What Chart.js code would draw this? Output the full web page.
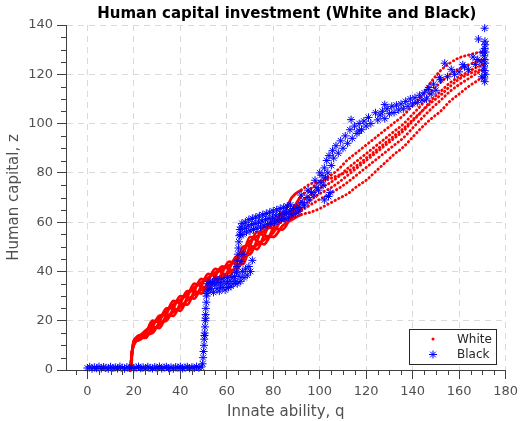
<!DOCTYPE html>
<html>
<head>
<meta charset="utf-8">
<script src="https://cdn.jsdelivr.net/npm/chart.js@4.4.1/dist/chart.umd.min.js"></script>
<style>
  html, body { margin: 0; padding: 0; background: #fff; }
</style>
</head>
<body>
<canvas id="chart" width="523" height="421"></canvas>
<script>
var FONT = "'DejaVu Sans', sans-serif";

// axis ticks
var xTicks = [0, 20, 40, 60, 80, 100, 120, 140, 160, 180];
var yTicks = [0, 20, 40, 60, 80, 100, 120, 140];

// White: shared q positions, one z list per strand
var whiteQ = [18.6, 19.2, 20, 22, 25, 28, 31, 34, 37, 40, 43, 46, 49, 52, 55, 58, 61, 64, 67, 70, 73, 76, 80, 84, 88, 92, 96, 100, 104, 108, 112, 116, 120, 124, 128, 132, 136, 140, 144, 148, 152, 156, 160, 164, 168, 171];
var whiteA = [0, 7, 10, 13, 16, 17.5, 17, 22.5, 28, 27, 26.5, 32, 37, 36, 35, 39.5, 44, 43, 43, 50.5, 56, 54.5, 54, 58.5, 61, 63, 64, 65.5, 67.5, 69.5, 71.5, 74.5, 77, 80.5, 84, 87.5, 90.5, 94.5, 98.5, 102, 105, 109, 112, 115, 117.5, 119.5];
var whiteB = [0, 7, 11, 14, 14.5, 15, 19.5, 25, 25, 24, 29.5, 35, 34, 33, 38, 42, 41, 40, 46.5, 54, 52.5, 51, 57.5, 64, 63, 64.7, 67, 69.3, 71.3, 73.6, 76.2, 79.2, 82.2, 85.2, 88.2, 91.2, 94.2, 98.2, 102.2, 106, 109.4, 113, 115.8, 118.2, 120.6, 122];
var whiteC = [0, 7, 12, 13, 13, 17.5, 22, 22.5, 22, 27, 32, 32, 31, 36, 41, 39.5, 38, 43, 50, 50.5, 49, 54.5, 61, 60.5, 62, 65.5, 69, 71.5, 73.5, 76, 79, 82, 85, 88, 91, 94, 97, 101, 105, 109.5, 113, 116.5, 119, 121, 123, 124];
var whiteD = [0, 7, 11, 12, 14.5, 20, 19.5, 20, 25, 30, 29.5, 29, 34, 39, 38, 37, 41, 46, 46.5, 47, 52.5, 58, 57.5, 57, 63, 68.3, 71, 73.7, 75.7, 78.4, 81.8, 84.8, 87.8, 90.8, 93.8, 96.8, 99.8, 103.8, 107.8, 113, 116.6, 120, 122.2, 123.8, 125.4, 126];
var whiteE = [0, 7, 11.5, 13.5, 15.3, 18.8, 20.8, 23.8, 26.5, 28.5, 30.8, 33.5, 35.5, 37.5, 39.5, 40.8, 42.5, 44.5, 48.3, 52.3, 54.3, 56.3, 59.3, 62.3, 65, 70.5, 73.5, 76.5, 78.5, 81.4, 85.3, 88.3, 91.3, 94.3, 97.3, 100.3, 103.3, 107.3, 111.3, 117, 121.5, 124.5, 126.7, 127.8, 128.8, 129];
var whiteF = [0, 7, 10.5, 12.5, 13.8, 16.3, 18.3, 21.3, 23.5, 25.5, 28.3, 30.5, 32.5, 34.5, 36.5, 38.3, 39.5, 41.5, 44.8, 48.8, 50.8, 52.8, 55.8, 62, 70, 73, 75.5, 76.5, 77.5, 79, 80.5, 83, 86, 89, 92, 95, 98, 101.5, 105, 108.5, 111.5, 115, 118, 120, 121.5, 122.5];

// Black: [q, z] points, by stretch of the curve
var blackFloor = [[0,0.8],[1,1.3],[2,0.5],[3,1.1],[4,0.7],[5,1.4],[6,0.6],[7,1.2],[8,0.9],[9,0.5],[10,1.3],[11,0.8],[12,1.1],[13,0.6],[14,1.4],[15,0.9],[16,0.5],[17,1.2],[18,0.8],[19,1.3],[20,0.6],[21,1],[22,1.4],[23,0.7],[24,1.1],[25,0.5],[26,1.3],[27,0.9],[28,0.6],[29,1.2],[30,0.8],[31,1.4],[32,0.6],[33,1],[34,1.3],[35,0.7],[36,1.1],[37,0.5],[38,1.2],[39,0.9],[40,1.4],[41,0.6],[42,1],[43,1.3],[44,0.7],[45,1.1],[46,0.8],[47,1.4],[48,0.9],[49,1.2]];
var blackRise = [[49.6,2.5],[49.8,5],[50,7.5],[50.2,10],[50.3,12.5],[50.4,14],[50.5,15],[50.6,17.5],[50.8,20],[50.9,21],[50.9,22.5],[51,25],[51.2,27.5],[51.3,30],[51.4,31],[51.5,32.5]];
var blackLow = [[51.8,35],[52.3,32.5],[52.8,36],[53.3,33],[53.8,35.5],[54.3,31.5],[54.8,34.5],[55.3,37],[55.8,33],[56.3,35.5],[56.8,32],[57.3,34.5],[57.8,37],[58.3,33.5],[58.8,36],[59.3,32.5],[59.8,35],[60.3,37.5],[60.8,33.5],[61.3,36],[61.8,34],[62.3,37.5],[62.8,35],[63.3,38],[63.8,36]];
var blackShoulder = [[64.5,35],[65.3,38],[66,36],[66.7,40],[67.4,37.5],[68.1,41],[68.8,38.5],[69.5,42],[70.2,40],[71,44.5],[66.2,44],[67,47]];
var blackJump = [[64.2,39.5],[64.4,42],[64.6,44.5],[64.8,47],[65,49.5],[65.2,52],[65.4,54.5],[65.6,57],[65.9,55],[66.2,58]];
var blackMid = [[67,55],[68.5,56],[70,56.5],[71.5,57],[73,57.5],[74.5,58],[76,58.5],[77.5,59],[79,59.5],[80.5,60],[82,60.5],[83.5,61],[85,61.5],[86.5,62],[88,63],[89.5,63.5],[91,64.5],
  [67.7,57.5],[69.2,58.5],[70.7,59],[72.2,59.5],[73.7,60],[75.2,60.5],[76.7,61],[78.2,61.5],[79.7,62],[81.2,62.5],[82.7,63],[84.2,63.5],[85.7,64],[87.2,64.5],[88.7,65.5],[90.2,66],
  [66.5,59.5],[68,60],[69.5,61],[71,61.5],[72.5,62],[74,62.5],[75.5,63],[77,63.5],[78.5,64],[80,64.5],[81.5,65],[83,65.5],[84.5,66],[86,66.5],[87.5,67]];
var blackClimb = [[91.5,66],[92.5,68],[93.5,67],[94.5,70],[95.5,69],[96.5,72],[97.5,71],[98.5,74],[99.5,73],[100.5,76],[101,79],[101.5,75],[102,82],[102.5,78],[103,85],[103.5,80],[104,87],[104.5,72],[105,83],[105.5,89],[106,86],[92,71],[95,73],[98,77],[100,80],[103.8,70.4],[102,69]];
var blackUpper = [[107,91],[108,88],[109,93],[110,90],[111,95],[112,92],[113,97.5],[114,94],[115,99],[116,96],[117,100],[118,97.5],[119,101],[120,99],[121,102.5],[122,100],[124,104.4],[125,101.5],[126,103.5],[127,105],[128,102],[129,106],[130,104],[131,107],[132,104.5],[133,107.5],[134,105.5],[135,108],[136,106],[137,109],[138,107],[139,110],[140,108],[141,110.5],[142,108.5],[143,111.5],[144,109.5],[145,112.5],[146,110],[146.6,113.8],[128,107.7],[113.5,101.6],[117,97]];
var blackTop = [[147,114.6],[148,112],[149,116],[150,113.5],[151.6,118.6],[152,117.8],[153.8,124.5],[155,119],[156.6,122],[158,120],[160,121],[161.6,123.9],[162.3,123],[164,122],[166,127],[167,124],[168,126]];
var blackColumn = [[171,117],[170.8,118.5],[171.3,120],[171,121.5],[170.7,123],[171.2,124.5],[171,126],[170.8,127.5],[171.3,129],[171,130.5],[171.2,132],[171.1,133.4],[168.3,134.3],[171,138.7],[169.5,125],[169.8,119],[170,129]];

function toPoints(list) {
  return list.map(function (p) { return {x: p[0], y: p[1]}; });
}

var blackAll = [].concat(blackFloor, blackRise, blackLow, blackShoulder, blackJump, blackMid, blackClimb, blackUpper, blackTop, blackColumn);
var whiteStrands = [whiteA, whiteB, whiteC, whiteD, whiteE, whiteF];

var datasets = [{
  label: 'Black',
  data: toPoints(blackAll),
  showLine: false,
  pointStyle: 'star',
  pointRadius: 4,
  pointBorderWidth: 1,
  borderColor: '#0000ff',
  backgroundColor: '#0000ff',
  clip: false
}];
whiteStrands.forEach(function (z) {
  datasets.push({
    label: 'White',
    data: whiteQ.map(function (q, i) { return {x: q, y: z[i]}; }),
    showLine: true,
    borderColor: '#ff0000',
    backgroundColor: '#ff0000',
    borderWidth: 2.8,
    borderCapStyle: 'round',
    pointRadius: 0,
    cubicInterpolationMode: 'monotone',
    // solid braid at low q, loose dots further up
    segment: {
      borderDash: function (c) { return c.p0.parsed.x < 92 ? [] : [0.5, 3.6]; }
    },
    clip: false
  });
});

// title, minor ticks and the boxed legend
var extras = {
  id: 'extras',
  afterDraw: function (chart) {
    var ctx = chart.ctx, area = chart.chartArea;
    var xs = chart.scales.x, ys = chart.scales.y;
    ctx.save();
    ctx.strokeStyle = '#404040';
    ctx.lineWidth = 1;
    ctx.beginPath();
    for (var v = -5; v <= 180; v += 5) {
      if (v % 20 === 0) continue;
      var px = Math.round(xs.getPixelForValue(v)) + 0.5;
      ctx.moveTo(px, area.bottom);
      ctx.lineTo(px, area.bottom + 5);
    }
    for (var w = 5; w < 140; w += 5) {
      if (w % 20 === 0) continue;
      var py = Math.round(ys.getPixelForValue(w)) + 0.5;
      ctx.moveTo(area.left - 5, py);
      ctx.lineTo(area.left, py);
    }
    ctx.stroke();

    ctx.fillStyle = '#000';
    ctx.font = 'bold 15px ' + FONT;
    ctx.textAlign = 'center';
    ctx.textBaseline = 'middle';
    ctx.fillText('Human capital investment (White and Black)', (area.left + area.right) / 2 + 1, 14);

    // legend box
    ctx.fillStyle = '#fff';
    ctx.fillRect(409.5, 329.5, 87, 35);
    ctx.strokeStyle = '#262626';
    ctx.strokeRect(409.5, 329.5, 87, 35);
    ctx.fillStyle = '#ff0000';
    ctx.beginPath();
    ctx.arc(433, 339, 1.5, 0, Math.PI * 2);
    ctx.fill();
    ctx.strokeStyle = '#0000ff';
    Chart.helpers.drawPoint(ctx, {pointStyle: 'star', radius: 4, borderWidth: 1}, 433, 354.5);
    ctx.fillStyle = '#262626';
    ctx.font = '12px ' + FONT;
    ctx.textAlign = 'left';
    ctx.fillText('White', 457, 339.5);
    ctx.fillText('Black', 457, 355);
    ctx.restore();
  }
};

new Chart(document.getElementById('chart'), {
  type: 'scatter',
  data: { datasets: datasets },
  plugins: [extras],
  options: {
    responsive: false,
    animation: false,
    layout: { padding: { top: 25, right: 15, left: 0, bottom: 0 } },
    plugins: {
      legend: { display: false },
      tooltip: { enabled: false },
      title: { display: false }
    },
    scales: {
      x: {
        type: 'linear',
        min: -9.2,
        max: 180,
        afterBuildTicks: function (s) { s.ticks = xTicks.map(function (v) { return {value: v}; }); },
        afterFit: function (s) { s.height = 51; },
        grid: { color: '#dadada', lineWidth: 1, tickLength: 9, tickColor: '#404040', tickWidth: 1 },
        border: { display: true, color: '#404040', width: 1, dash: [6, 5] },
        ticks: { color: '#505050', font: { family: FONT, size: 13 }, padding: 5, maxRotation: 0, autoSkip: false },
        title: { display: true, text: 'Innate ability, q', color: '#505050', font: { family: FONT, size: 15 }, padding: { top: 0, bottom: 0 } }
      },
      y: {
        type: 'linear',
        min: 0,
        max: 140,
        afterBuildTicks: function (s) { s.ticks = yTicks.map(function (v) { return {value: v}; }); },
        afterFit: function (s) { s.width = 66; },
        grid: { color: '#dadada', lineWidth: 1, tickLength: 9, tickColor: '#404040', tickWidth: 1 },
        border: { display: true, color: '#404040', width: 1, dash: [6, 5] },
        ticks: { color: '#505050', font: { family: FONT, size: 13 }, padding: 4 },
        title: { display: true, text: 'Human capital, z', color: '#505050', font: { family: FONT, size: 15 }, padding: { top: 5, bottom: 0 } }
      }
    }
  }
});
</script>
</body>
</html>
